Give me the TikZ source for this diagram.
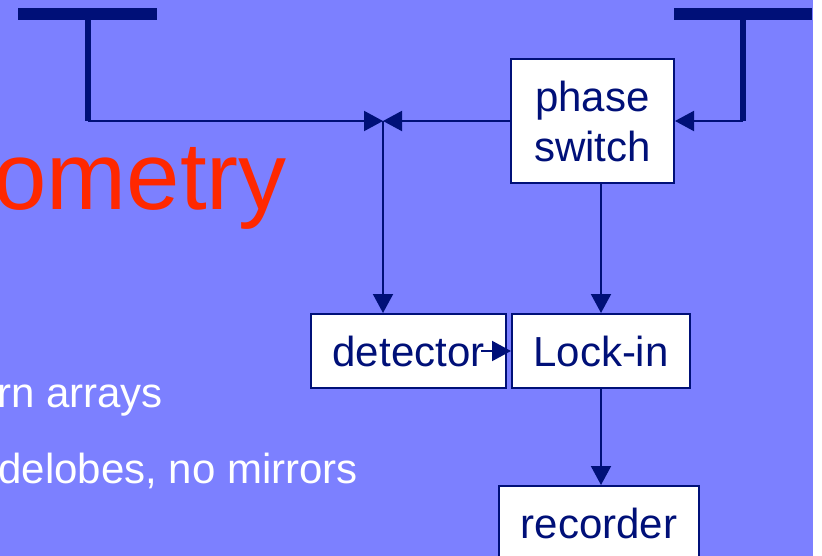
\documentclass[tikz,border=0pt]{standalone}
\usepackage{fontspec}
\setmainfont{Liberation Sans}
\usepackage{tikz}
\usepackage{xcolor}
\usetikzlibrary{arrows.meta}
\usetikzlibrary{positioning}
\definecolor{slide}{RGB}{124,128,255}
\definecolor{navy}{RGB}{0,16,120}
\definecolor{titlered}{RGB}{255,40,0}
\tikzset{>={Triangle[length=19pt, width=20pt]}}

\begin{document}
\begin{tikzpicture}[x=1pt, y=-1pt,
            block/.style={draw=navy, line width=2pt, fill=white, text=navy, inner sep=0pt,
                align=center, font=\fontsize{42}{50}\selectfont},
            wire/.style={draw=navy, line width=2pt},
            mast/.style={draw=navy, line width=6pt},
            slidetext/.style={anchor=base east, inner sep=0pt, text=white, font=\fontsize{42}{42}\selectfont}
        ]
            \useasboundingbox (0, 0) rectangle (822, 556);
            \fill[slide] (0, 0) rectangle (813, 556);
            \clip (0, 0) rectangle (813, 556);
            % label
            \node[anchor=base east, inner sep=0pt, text=titlered, font=\fontsize{96}{96}\selectfont] (title) at (287, 210) {ometry};
            \node[slidetext] (itemone) at (163, 407) {rn arrays};
            \node[slidetext] (itemtwo) at (358, 483) {delobes, no mirrors};
            % boxes
            \node[block, minimum width=163pt, minimum height=124pt] (phase) at (592.5, 121) {phase\\switch};
            \node[block, minimum width=195pt, minimum height=74pt] (detector) at (408.5, 351) {detector};
            \node[block, minimum width=178pt, minimum height=74pt] (lockin) at (601, 351) {Lock-in};
            \node[block, minimum width=200pt, minimum height=74pt] (recorder) at (599, 523) {recorder};
            % antennas
            \coordinate (lfoot) at (88, 121);
            \coordinate (rfoot) at (743, 121);
            \coordinate (join) at (383, 121);
            \fill[navy] (18, 8) rectangle (157, 20);
            \fill[navy] (674, 8) rectangle (812, 20);
            \draw[mast] (88, 20) -- (lfoot);
            \draw[mast] (743, 20) -- (rfoot);
            % paths
            \draw[wire, ->] (lfoot) -- (join);
            \draw[wire, ->] (phase.west) -- (join);
            \draw[wire, ->] (rfoot) -- (phase.east);
            \draw[wire, ->] (join) -- (join |- detector.north);
            \draw[wire, ->] (lockin.north |- phase.south) -- (lockin.north);
            \draw[wire, ->] ([xshift=-26pt]detector.east) -- (lockin.west);
            \draw[wire, ->] (lockin.south) -- (lockin.south |- recorder.north);
        \end{tikzpicture}
\end{document}
